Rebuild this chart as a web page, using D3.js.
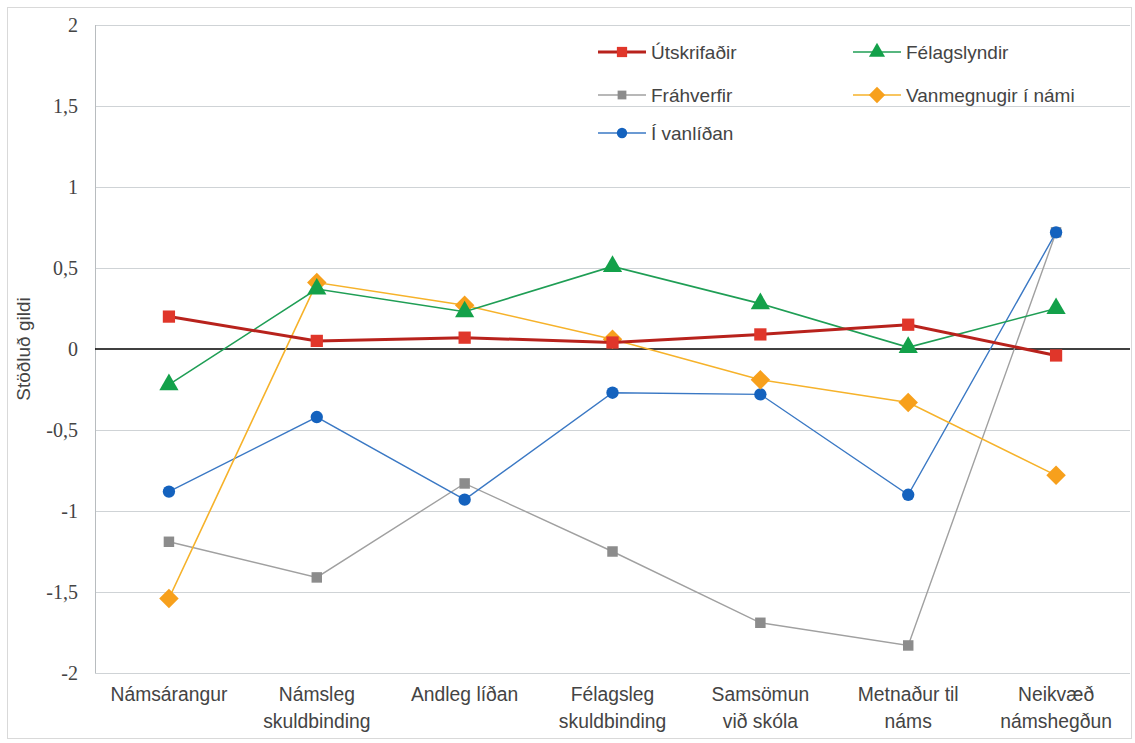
<!DOCTYPE html>
<html>
<head>
<meta charset="utf-8">
<script src="https://cdn.jsdelivr.net/npm/d3@7"></script>
<style>
  body { margin: 0; background: #fff; }
  svg { display: block; }
</style>
</head>
<body>
<svg width="1135" height="743"></svg>
<script>
// categories on the x axis (two lines where the original wraps)
var categories = [
  ["Námsárangur"],
  ["Námsleg", "skuldbinding"],
  ["Andleg líðan"],
  ["Félagsleg", "skuldbinding"],
  ["Samsömun", "við skóla"],
  ["Metnaður til", "náms"],
  ["Neikvæð", "námshegðun"]
];
var yTicks = [2, 1.5, 1, 0.5, 0, -0.5, -1, -1.5, -2];

var utskrifadir = [0.20, 0.05, 0.07, 0.04, 0.09, 0.15, -0.04];
var felagslyndir = [-0.22, 0.37, 0.23, 0.51, 0.28, 0.01, 0.25];
var frahverfir = [-1.19, -1.41, -0.83, -1.25, -1.69, -1.83, 0.72];
var vanmegnugir = [-1.54, 0.41, 0.27, 0.06, -0.19, -0.33, -0.78];
var vanlidan = [-0.88, -0.42, -0.93, -0.27, -0.28, -0.90, 0.72];

var series = [
  {name: "Útskrifaðir", values: utskrifadir, line: "#b8221c", fill: "#e0362a", width: 3, shape: d3.symbolSquare, size: 150, rot: 0},
  {name: "Félagslyndir", values: felagslyndir, line: "#1f9e55", fill: "#13a14a", width: 1.6, shape: d3.symbolTriangle, size: 160, rot: 0},
  {name: "Fráhverfir", values: frahverfir, line: "#a0a0a0", fill: "#8c8c8c", width: 1.4, shape: d3.symbolSquare, size: 110, rot: 0},
  {name: "Vanmegnugir í námi", values: vanmegnugir, line: "#f6b22a", fill: "#f7a01c", width: 1.6, shape: d3.symbolSquare, size: 190, rot: 45},
  {name: "Í vanlíðan", values: vanlidan, line: "#3a78c4", fill: "#1462be", width: 1.4, shape: d3.symbolCircle, size: 120, rot: 0}
];
// draw order: gray and blue underneath, red on top like the original
var drawOrder = [2, 4, 3, 1, 0];

var svg = d3.select("svg"),
    margin = {left: 95, right: 5, top: 25, bottom: 70},
    width = +svg.attr("width"),
    height = +svg.attr("height");

// light frame round the whole chart
svg.append("rect")
    .attr("x", 7.5).attr("y", 7.5)
    .attr("width", width - 11).attr("height", height - 12)
    .attr("fill", "none").attr("stroke", "#d9d9d9");

var x = d3.scaleBand()
    .domain(d3.range(categories.length))
    .range([margin.left, width - margin.right]);

var y = d3.scaleLinear()
    .domain([-2, 2])
    .range([673, margin.top]);

// grid
svg.append("g")
    .selectAll("line")
    .data(yTicks.filter(function(d) { return d !== 0; }))
    .enter().append("line")
    .attr("x1", margin.left).attr("x2", width - margin.right)
    .attr("y1", function(d) { return y(d) + 0.5; })
    .attr("y2", function(d) { return y(d) + 0.5; })
    .attr("stroke", "#cfd3d6").attr("stroke-width", 1);

// left axis line
svg.append("line")
    .attr("x1", margin.left + 0.5).attr("x2", margin.left + 0.5)
    .attr("y1", y(2)).attr("y2", y(-2))
    .attr("stroke", "#b8bcbf");

// y tick labels (comma decimal)
var fmt = function(d) { return String(d).replace(".", ","); };
svg.append("g")
    .selectAll("text")
    .data(yTicks)
    .enter().append("text")
    .attr("x", 78)
    .attr("y", function(d) { return y(d); })
    .attr("dy", "0.35em")
    .attr("text-anchor", "end")
    .style("font-family", "'Liberation Serif', 'DejaVu Serif', serif")
    .attr("font-size", 20)
    .attr("fill", "#444")
    .text(fmt);

// y title
svg.append("text")
    .attr("transform", "translate(30," + y(0) + ") rotate(-90)")
    .attr("text-anchor", "middle")
    .attr("font-family", "Liberation Sans, Arial, sans-serif")
    .attr("font-size", 19)
    .attr("fill", "#444")
    .text("Stöðluð gildi");

// category labels, slightly condensed like the original
var cat = svg.append("g")
    .selectAll("text")
    .data(categories)
    .enter().append("text")
    .attr("transform", function(d, i) {
        return "translate(" + (x(i) + x.bandwidth() / 2) + ",701) scale(0.92,1)";
    })
    .attr("text-anchor", "middle")
    .attr("font-family", "Liberation Sans, Arial, sans-serif")
    .attr("font-size", 21)
    .attr("fill", "#444");
cat.selectAll("tspan")
    .data(function(d) { return d; })
    .enter().append("tspan")
    .attr("x", 0)
    .attr("dy", function(d, i) { return i === 0 ? 0 : 27; })
    .text(function(d) { return d; });

var line = d3.line()
    .x(function(d, i) { return x(i) + x.bandwidth() / 2; })
    .y(function(d) { return y(d); });

// zero line
svg.append("line")
    .attr("x1", margin.left).attr("x2", width - margin.right)
    .attr("y1", y(0)).attr("y2", y(0))
    .attr("stroke", "#000").attr("stroke-width", 1.5);

drawOrder.forEach(function(k) {
    var s = series[k];
    var g = svg.append("g");
    g.append("path")
        .datum(s.values)
        .attr("d", line)
        .attr("fill", "none")
        .attr("stroke", s.line)
        .attr("stroke-width", s.width);
    g.selectAll("path.m")
        .data(s.values)
        .enter().append("path")
        .attr("class", "m")
        .attr("d", d3.symbol().type(s.shape).size(s.size))
        .attr("transform", function(d, i) {
            return "translate(" + (x(i) + x.bandwidth() / 2) + "," + y(d) + ") rotate(" + s.rot + ")";
        })
        .attr("fill", s.fill);
});

// legend, two columns
var legendPos = [[598, 52], [853, 52], [598, 95], [853, 95], [598, 133]];
series.forEach(function(s, i) {
    var p = legendPos[i];
    var g = svg.append("g").attr("transform", "translate(" + p[0] + "," + p[1] + ")");
    g.append("line")
        .attr("x1", 0).attr("x2", 48)
        .attr("stroke", s.line).attr("stroke-width", s.width);
    g.append("path")
        .attr("d", d3.symbol().type(s.shape).size(s.size * 0.7))
        .attr("transform", "translate(24,0) rotate(" + s.rot + ")")
        .attr("fill", s.fill);
    g.append("text")
        .attr("x", 53).attr("dy", "0.35em")
        .attr("font-family", "Liberation Sans, Arial, sans-serif")
        .attr("font-size", 19)
        .attr("fill", "#444")
        .text(s.name);
});
</script>
</body>
</html>
